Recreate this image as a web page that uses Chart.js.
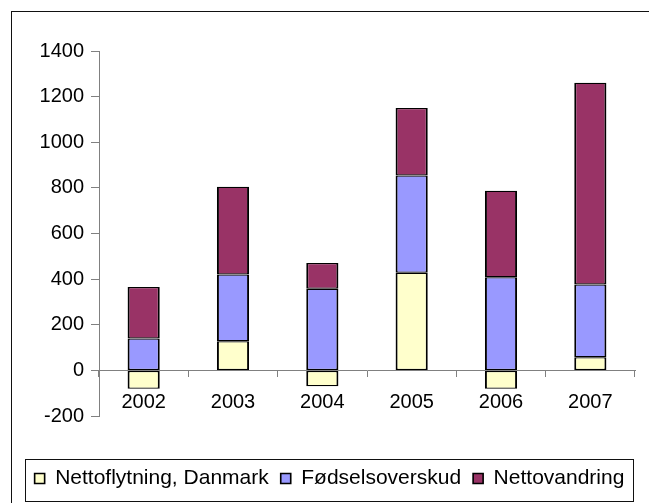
<!DOCTYPE html>
<html>
<head>
<meta charset="utf-8">
<script src="https://cdn.jsdelivr.net/npm/chart.js@4/dist/chart.umd.min.js"></script>
<style>
html,body{margin:0;padding:0;background:#fff;}
#wrap{width:649px;height:503px;position:relative;}
</style>
</head>
<body>
<div id="wrap"><canvas id="c"></canvas></div>
<script>
const categories = ['2002', '2003', '2004', '2005', '2006', '2007'];
const nettoflytning = [-80, 128, -70, 428, -80, 58];
const foedselsoverskud = [140, 292, 358, 426, 408, 318];
const nettovandring = [226, 385, 113, 296, 379, 885];
const seriesNames = ['Nettoflytning, Danmark', 'Fødselsoverskud', 'Nettovandring'];
const seriesColors = ['#FFFFCC', '#9999FF', '#993366'];
const yMin = -200, yMax = 1400, yStep = 200;

const FONT = "'Liberation Sans', Arial, sans-serif";

const framePlugin = {
  id: 'frame',
  beforeDraw(chart) {
    const ctx = chart.ctx;
    ctx.save();
    ctx.strokeStyle = '#111';
    ctx.lineWidth = 1;
    ctx.strokeRect(11.5, 11.5, 1000, 1000);
    ctx.restore();
  },
  afterDraw(chart) {
    const hb = chart.legend && chart.legend.legendHitBoxes;
    if (!hb || !hb.length) return;
    const first = hb[0], last = hb[hb.length - 1];
    const left = Math.round(first.left - 10) + 0.5;
    const right = Math.round(last.left + last.width + 9) + 0.5;
    const top = Math.round(first.top - 9) + 0.5;
    const bottom = Math.round(first.top + 33) + 0.5;
    const ctx = chart.ctx;
    ctx.save();
    ctx.strokeStyle = '#111';
    ctx.lineWidth = 1;
    ctx.strokeRect(left, top, right - left, bottom - top);
    ctx.restore();
  }
};

const mk = (label, data, color) => ({
  label, data,
  backgroundColor: color,
  borderColor: '#000',
  borderWidth: { left: 2, right: 2, top: 1.25, bottom: 1.25 },
  borderSkipped: false,
  barPercentage: 0.36,
  categoryPercentage: 1.0
});

new Chart(document.getElementById('c'), {
  type: 'bar',
  data: {
    labels: categories,
    datasets: [
      mk(seriesNames[0], nettoflytning, seriesColors[0]),
      mk(seriesNames[1], foedselsoverskud, seriesColors[1]),
      mk(seriesNames[2], nettovandring, seriesColors[2])
    ]
  },
  options: {
    responsive: true,
    maintainAspectRatio: false,
    animation: false,
    layout: { padding: { left: 14, right: 4, top: 51, bottom: 4 } },
    plugins: {
      tooltip: { enabled: false },
      legend: {
        position: 'bottom',
        labels: {
          boxWidth: 10, boxHeight: 10, padding: 12, color: '#000',
          font: { family: FONT, size: 21 }
        },
        title: { display: true, text: '', padding: { top: 39, bottom: 0 }, font: { size: 1, lineHeight: 1 } }
      }
    },
    scales: {
      x: {
        stacked: true,
        position: { y: 0 },
        grid: { drawOnChartArea: false, drawTicks: true, tickLength: 6, color: '#808080', offset: true },
        border: { display: true, color: '#808080', width: 1 },
        ticks: { color: '#000', font: { family: FONT, size: 20 }, padding: 14, maxRotation: 0 }
      },
      y: {
        stacked: true,
        min: yMin, max: yMax,
        ticks: { stepSize: yStep, color: '#000', font: { family: FONT, size: 20 }, padding: 7,
                 callback: v => String(v) },
        grid: { drawOnChartArea: false, tickLength: 8, color: '#808080' },
        border: { display: true, color: '#808080', width: 1 },
        afterFit(s) { s.width = 85; }
      },
      yRightSpace: {
        position: 'right',
        display: true,
        grid: { display: false, drawTicks: false },
        border: { display: false },
        ticks: { display: false },
        afterFit(s) { s.width = 10; }
      }
    }
  },
  plugins: [framePlugin]
});
</script>
</body>
</html>
